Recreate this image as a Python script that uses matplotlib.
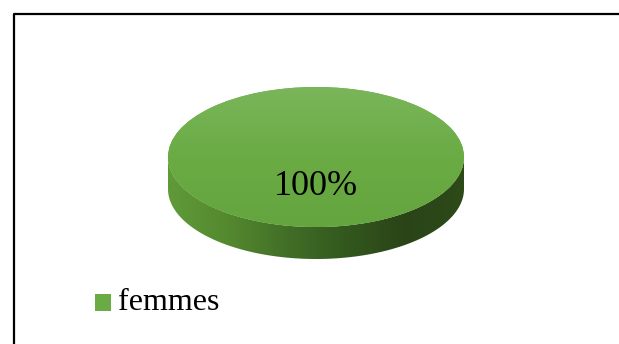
import numpy as np
import matplotlib.pyplot as plt
from matplotlib.colors import LinearSegmentedColormap
from matplotlib.patches import Polygon

labels = ["femmes"]
values = [100]
top_color = "#6aab44"

fig = plt.figure(figsize=(6.19, 3.44), dpi=100)
W, H = 619, 344

# frame around the chart (right/bottom run off the picture)
bg = fig.add_axes([0, 0, 1, 1])
bg.set_xlim(0, W)
bg.set_ylim(H, 0)
bg.axis("off")
bg.plot([14, 14, W + 5], [H + 5, 14, 14], color="black", lw=1.6)

# pie axes in pixel box: ellipse x 168-464, y 87-227, side depth 32
x0, x1, y0, y1 = 168, 464, 87, 259
depth = 32 / 70.0
ax = fig.add_axes([x0 / W, 1 - y1 / H, (x1 - x0) / W, (y1 - y0) / H])
ax.set_xlim(-1, 1)
ax.set_ylim(-1 - depth, 1)
ax.axis("off")

# side of the cylinder with a left-to-right gradient
t = np.linspace(np.pi, 2 * np.pi, 200)
pts = np.vstack([np.column_stack([np.cos(t), np.sin(t)]),
                 np.column_stack([np.cos(t[::-1]), np.sin(t[::-1]) - depth])])
side = Polygon(pts, closed=True, facecolor="none", edgecolor="none")
ax.add_patch(side)
cmap = LinearSegmentedColormap.from_list(
    "side", ["#5f9a39", "#55892f", "#416f27", "#33581e", "#2a4418", "#2d4a19"])
grad = np.linspace(0, 1, 256).reshape(1, -1)
im = ax.imshow(grad, cmap=cmap, extent=[-1, 1, -1 - depth, 0.05],
               aspect="auto", zorder=1)
im.set_clip_path(side)

# top face
wedges, texts, autotexts = ax.pie(
    values, radius=1, colors=[top_color], startangle=90, autopct="%1.0f%%",
    pctdistance=0.0, wedgeprops=dict(linewidth=0, zorder=2),
    textprops=dict(family="Liberation Serif", fontsize=26, color="black"))
ax.set_aspect("auto")
ax.set_xlim(-1, 1)
ax.set_ylim(-1 - depth, 1)
for w in wedges:
    w.set_zorder(2)
for a in autotexts:
    a.set_position((0, -0.42))
    a.set_zorder(3)

# soft highlight on the top face
top_grad = np.linspace(0, 1, 256).reshape(-1, 1)
hl = LinearSegmentedColormap.from_list("hl", ["#7ab65a", "#6aab44", "#65a53f"])
im2 = ax.imshow(top_grad, cmap=hl, extent=[-1, 1, -1, 1], origin="upper",
                aspect="auto", zorder=2.5)
im2.set_clip_path(wedges[0])

# legend
bg.add_patch(plt.Rectangle((95, 294), 16, 17, facecolor="#6aab44", edgecolor="none"))
bg.text(118, 303, labels[0], family="Liberation Serif", fontsize=23,
        va="center", ha="left")

fig.savefig("out.png", dpi=100)
